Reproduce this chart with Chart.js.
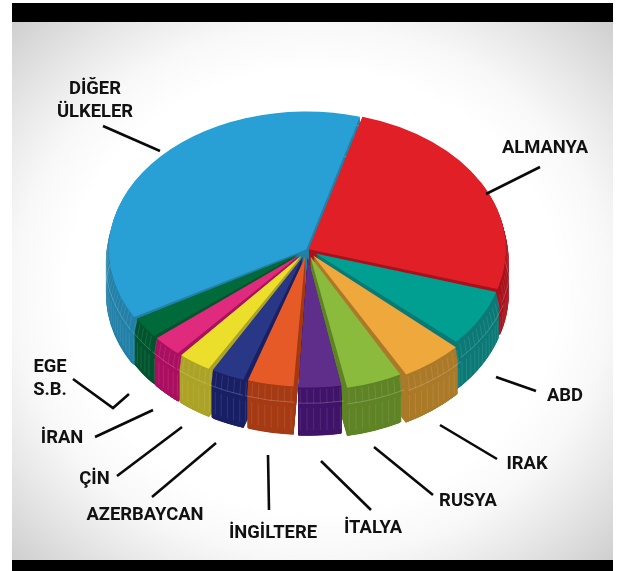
<!DOCTYPE html>
<html lang="tr">
<head>
<meta charset="utf-8">
<title>Ülkeler</title>
<style>
    html, body { margin: 0; padding: 0; background: #fff; }
    #page { position: relative; width: 618px; height: 571px; overflow: hidden; }
    #panel { position: absolute; left: 12px; top: 22px; width: 601px; height: 538px;
        background: radial-gradient(ellipse 62% 62% at 50% 50%, #fff 66%, #f8f8f8 80%, #e8e8e8 94%, #cfcfcf 114%); }
    .bar { position: absolute; left: 12px; width: 601px; background: #000; }
    canvas { position: absolute; left: 0; top: 0; }
</style>
<script src="https://cdn.jsdelivr.net/npm/chart.js@4"></script>
</head>
<body>
<div id="page">
    <div id="panel"></div>
    <div class="bar" style="top:3px;height:19px"></div>
    <div class="bar" style="top:560px;height:11px"></div>
    <canvas id="pie" width="618" height="571"></canvas>
</div>
<script>
const categories = ['ALMANYA', 'ABD', 'IRAK', 'RUSYA', 'İTALYA', 'İNGİLTERE', 'AZERBAYCAN', 'ÇİN', 'İRAN', ['EGE', 'S.B.'], ['DİĞER', 'ÜLKELER']];
const shares = [25.3, 7.1, 5.4, 4.9, 3.9, 4.2, 3.1, 3.1, 2.8, 2.8, 37.6];

const topColors = ['#e11f26', '#009f92', '#eea83c', '#8abb3d', '#5f2d8a', '#e55a27', '#293787', '#ebdf2b', '#e02a7d', '#006a3a', '#28a0d6'];
const wallColors = ['#a8121c', '#0b7a76', '#ab7a28', '#5f8426', '#40146a', '#a63b14', '#1a2065', '#aca327', '#ab0f60', '#00552e', '#2280a8'];
const sliceOffsets = [8, 40, 40, 40, 40, 40, 40, 40, 40, 40, 4];
// the right-hand front slices reach a little further out than the rest
const rimReach = [3, 5, 9, 6, 1, 0, 0, 0, 0, 0, 1];

// centre of the flattened pie on the page
const pieX = 307;
const pieY = 250;
const squash = 0.7;
const rimDepth = 12;
const wallDepth = 45;
const fullDepth = 49;

// label anchors, same order as categories: centre x, first baseline
const labelAnchors = [[545, 153], [565, 401], [527, 469], [468, 506], [373, 533], [273, 538], [145, 520], [94.5, 484], [62, 443], [50, 372], [95, 94]];
const labelLineGap = 22.5;

const leaderPaths = [
    [[540, 167], [486, 194]],
    [[536, 391], [496, 377]],
    [[497, 459], [440, 425]],
    [[433, 495], [374, 447]],
    [[371, 510], [321, 461]],
    [[269, 510], [268, 455]],
    [[152, 497], [216, 443]],
    [[117, 476], [182, 427]],
    [[95, 437], [153, 410]],
    [[73, 379], [113, 408], [129, 394]],
    [[103, 126], [160, 151]]
];

function withOptions(el, overrides, fn) {
    const saved = el.options;
    const savedRadius = el.outerRadius;
    el.options = Object.assign({}, saved, overrides);
    fn();
    el.options = saved;
    el.outerRadius = savedRadius;
}

function radiusAt(base, d) {
    // rim flares out a little, the foot of the wall is chamfered back in
    if (d <= rimDepth) return base + 3 * d / rimDepth;
    if (d <= wallDepth) return base + 3;
    return base + 3 - 4 * (d - wallDepth) / (fullDepth - wallDepth);
}

// ArcElement grows its radius by the offset as well as shifting, so take it off twice
function rimBase(el, i) {
    return el.outerRadius - el.options.offset / 2 + rimReach[i];
}

function drawWall(ctx, el, i) {
    const base = rimBase(el, i);
    for (let d = fullDepth; d >= 1; d--) {
        ctx.save();
        ctx.translate(0, d / squash);
        withOptions(el, { backgroundColor: wallColors[i], borderWidth: 0 }, () => {
            el.outerRadius = radiusAt(base, d);
            el.draw(ctx);
        });
        ctx.restore();
    }
}

function drawHatch(ctx, el, i) {
    const mid = (el.startAngle + el.endAngle) / 2;
    const off = el.options.offset / 4;
    const ox = el.x + Math.cos(mid) * off;
    const oy = el.y + Math.sin(mid) * off;
    const base = rimBase(el, i) + off;
    const step = Math.PI / 90;
    ctx.lineWidth = 0.6;
    for (let a = el.startAngle + step / 2; a < el.endAngle; a += step) {
        ctx.strokeStyle = 'rgba(255,255,255,0.2)';
        ctx.beginPath();
        ctx.moveTo(ox + Math.cos(a) * base, oy + Math.sin(a) * base);
        ctx.lineTo(ox + Math.cos(a) * (base + 3), oy + Math.sin(a) * (base + 3) + rimDepth / squash);
        ctx.stroke();
        ctx.beginPath();
        ctx.moveTo(ox + Math.cos(a) * (base + 3), oy + Math.sin(a) * (base + 3) + (rimDepth + 5) / squash);
        ctx.lineTo(ox + Math.cos(a) * (base + 3), oy + Math.sin(a) * (base + 3) + (wallDepth - 6) / squash);
        ctx.stroke();
    }
    ctx.strokeStyle = 'rgba(255,255,255,0.4)';
    [rimDepth, wallDepth].forEach((d) => {
        ctx.beginPath();
        ctx.arc(ox, oy + d / squash, base + 3, el.startAngle, el.endAngle);
        ctx.stroke();
    });
}

const extrudePlugin = {
    id: 'extrude',
    beforeDatasetsDraw(chart) {
        const ctx = chart.ctx;
        const arcs = chart.getDatasetMeta(0).data;
        const order = arcs.map((el, i) => i).sort((a, b) => {
            const midA = (arcs[a].startAngle + arcs[a].endAngle) / 2;
            const midB = (arcs[b].startAngle + arcs[b].endAngle) / 2;
            return Math.sin(midA) - Math.sin(midB);
        });
        ctx.save();
        ctx.translate(pieX, pieY);
        ctx.scale(1, squash);
        ctx.translate(-arcs[0].x, -arcs[0].y);
        order.forEach((i) => {
            const el = arcs[i];
            drawWall(ctx, el, i);
            drawHatch(ctx, el, i);
            // top face sits on the common rim, whatever the slice's offset
            withOptions(el, {}, () => {
                el.outerRadius = rimBase(el, i);
                el.draw(ctx);
            });
        });
        ctx.restore();
        return false;
    },
    afterDraw(chart) {
        const ctx = chart.ctx;
        ctx.save();
        ctx.strokeStyle = '#0a0a0a';
        ctx.lineWidth = 2.6;
        ctx.lineJoin = 'miter';
        leaderPaths.forEach((path) => {
            ctx.beginPath();
            path.forEach((p, i) => (i ? ctx.lineTo(p[0], p[1]) : ctx.moveTo(p[0], p[1])));
            ctx.stroke();
        });
        ctx.fillStyle = '#111';
        ctx.font = 'bold 18.4px Roboto';
        ctx.textAlign = 'center';
        ctx.textBaseline = 'alphabetic';
        categories.forEach((label, i) => {
            const lines = Array.isArray(label) ? label : [label];
            lines.forEach((line, n) => {
                ctx.fillText(line, labelAnchors[i][0], labelAnchors[i][1] + n * labelLineGap);
            });
        });
        ctx.restore();
    }
};

new Chart(document.getElementById('pie'), {
    type: 'pie',
    data: {
        labels: categories,
        datasets: [{
            data: shares,
            backgroundColor: topColors,
            borderWidth: 0,
            offset: sliceOffsets,
            radius: 198
        }]
    },
    options: {
        responsive: false,
        animation: false,
        rotation: 15.8,
        events: [],
        plugins: { legend: { display: false }, tooltip: { enabled: false } }
    },
    plugins: [extrudePlugin]
});
</script>
</body>
</html>
